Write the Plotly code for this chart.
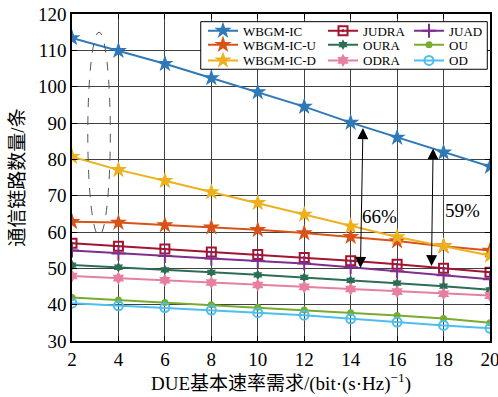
import plotly.graph_objects as go

x_vals = [2, 4, 6, 8, 10, 12, 14, 16, 18, 20]

wbgm_ic = [113.4, 109.9, 106.3, 102.4, 98.5, 94.5, 90.1, 86.0, 81.9, 78.0]
wbgm_ic_u = [62.8, 62.6, 61.9, 61.3, 60.6, 59.7, 58.7, 57.5, 56.1, 54.9]
wbgm_ic_d = [80.7, 77.1, 74.1, 71.0, 68.0, 64.8, 61.6, 58.6, 56.1, 53.5]
judra = [56.9, 56.1, 55.3, 54.5, 53.8, 53.0, 52.1, 51.1, 50.0, 48.9]
juad = [54.9, 54.1, 53.4, 52.7, 52.0, 51.3, 50.3, 49.2, 48.1, 47.0]
oura = [50.9, 50.3, 49.6, 48.9, 48.2, 47.5, 46.7, 45.9, 45.1, 44.1]
ou = [42.0, 41.3, 40.6, 40.0, 39.3, 38.5, 37.8, 37.0, 36.2, 35.0]
odra = [47.9, 47.3, 46.7, 46.1, 45.4, 44.9, 44.3, 43.6, 43.0, 42.5]
od = [40.4, 39.7, 39.2, 38.5, 37.8, 37.1, 36.1, 35.2, 34.3, 33.5]

x_ticks = [2, 4, 6, 8, 10, 12, 14, 16, 18, 20]
y_ticks = [30, 40, 50, 60, 70, 80, 90, 100, 110, 120]

# annotation geometry (data units)
arrow1 = dict(x0=14.42, y0=49.7, x1=14.53, y1=88.6)
arrow2 = dict(x0=17.48, y0=50.2, x1=17.55, y1=83.0)
pct_labels = [("66%", 15.25, 64.3), ("59%", 18.8, 66.0)]
ellipse = dict(x0=2.68, x1=3.65, y0=59.0, y1=115.0)

FONT = '"Liberation Serif", "Times New Roman", "Noto Sans CJK SC", serif'

series = [
    # name, data, color, symbol, size, legend id
    ("WBGM-IC", wbgm_ic, "#2e7ab8", "star", 13, "legend"),
    ("JUDRA", judra, "#a2142f", "square-open-dot", 9, "legend2"),
    ("JUAD", juad, "#7e2f8e", "cross-thin-open", 10, "legend3"),
    ("WBGM-IC-U", wbgm_ic_u, "#d95319", "star", 13, "legend4"),
    ("OURA", oura, "#2b6e55", "hexagram", 8, "legend5"),
    ("OU", ou, "#77ac30", "circle", 7, "legend6"),
    ("WBGM-IC-D", wbgm_ic_d, "#edb120", "star", 13, "legend7"),
    ("ODRA", odra, "#e77fa0", "hexagram", 10, "legend8"),
    ("OD", od, "#4dbeee", "circle-open", 9, "legend9"),
]

fig = go.Figure()
for name, data, color, sym, size, leg in series:
    open_sym = "open" in sym
    fig.add_trace(go.Scatter(
        x=x_vals, y=data, name=name, mode="lines+markers",
        line=dict(color=color, width=2),
        marker=dict(symbol=sym, size=size, color=color,
                    line=dict(color=color, width=2 if open_sym else 0)),
        legend=leg, showlegend=True,
    ))

# legend layout: 3 columns x 3 rows, one legend per entry
col_x = [0.3134, 0.6005, 0.8062]
row_y = [0.949, 0.906, 0.858]
legend_ids = ["legend", "legend2", "legend3", "legend4", "legend5", "legend6",
              "legend7", "legend8", "legend9"]
leg_layout = {}
for i, lid in enumerate(legend_ids):
    leg_layout[lid] = dict(
        x=col_x[i % 3], y=row_y[i // 3], xanchor="left", yanchor="middle",
        xref="paper", yref="paper",
        bgcolor="rgba(0,0,0,0)", borderwidth=0,
        font=dict(family=FONT, size=13, color="#000"),
        itemwidth=30,
    )

shapes = [
    dict(type="rect", xref="paper", yref="paper", x0=0.308, x1=0.9935,
         y0=0.831, y1=0.9765, fillcolor="white", line=dict(color="#000", width=1),
         layer="above"),
    dict(type="circle", xref="x", yref="y", x0=ellipse["x0"], x1=ellipse["x1"],
         y0=ellipse["y0"], y1=ellipse["y1"],
         line=dict(color="#555", width=1, dash="dash"), layer="above"),
]

annotations = []
for a in (arrow1, arrow2):
    annotations.append(dict(
        x=a["x1"], y=a["y1"], ax=a["x0"], ay=a["y0"], xref="x", yref="y",
        axref="x", ayref="y", text="", showarrow=True, arrowhead=2,
        arrowside="end+start", arrowsize=2.2, arrowwidth=1, arrowcolor="#000",
    ))
for txt, tx, ty in pct_labels:
    annotations.append(dict(x=tx, y=ty, xref="x", yref="y", text=txt,
                            showarrow=False, font=dict(family=FONT, size=19, color="#000")))

fig.update_layout(
    template="none",
    width=498, height=397,
    margin=dict(l=72, r=8, t=14, b=56),
    paper_bgcolor="white", plot_bgcolor="white",
    font=dict(family=FONT, size=19, color="#000"),
    shapes=shapes, annotations=annotations,
    showlegend=True,
    **leg_layout,
)
fig.update_xaxes(
    range=[2, 20], tickvals=x_ticks, ticks="inside", ticklen=5, tickcolor="#000",
    showline=True, linecolor="#000", linewidth=1.5, mirror="ticks",
    showgrid=True, gridcolor="#404040", gridwidth=1, zeroline=False,
    automargin=False, ticklabeloverflow="allow",
    title=dict(text="DUE基本速率需求/(bit·(s·Hz)<sup>−1</sup>)", standoff=4,
               font=dict(family=FONT, size=19, color="#000")),
    tickfont=dict(family=FONT, size=19, color="#000"),
)
fig.update_yaxes(
    range=[30, 120], tickvals=y_ticks, ticks="inside", ticklen=5, tickcolor="#000",
    showline=True, linecolor="#000", linewidth=1.5, mirror="ticks",
    showgrid=True, gridcolor="#404040", gridwidth=1, zeroline=False,
    automargin=False, ticklabeloverflow="allow",
    title=dict(text="通信链路数量/条", standoff=8, font=dict(family=FONT, size=19, color="#000")),
    tickfont=dict(family=FONT, size=19, color="#000"),
)

fig.write_html("out.html", config={"displayModeBar": False},
               post_script="document.body.style.margin='0';")
